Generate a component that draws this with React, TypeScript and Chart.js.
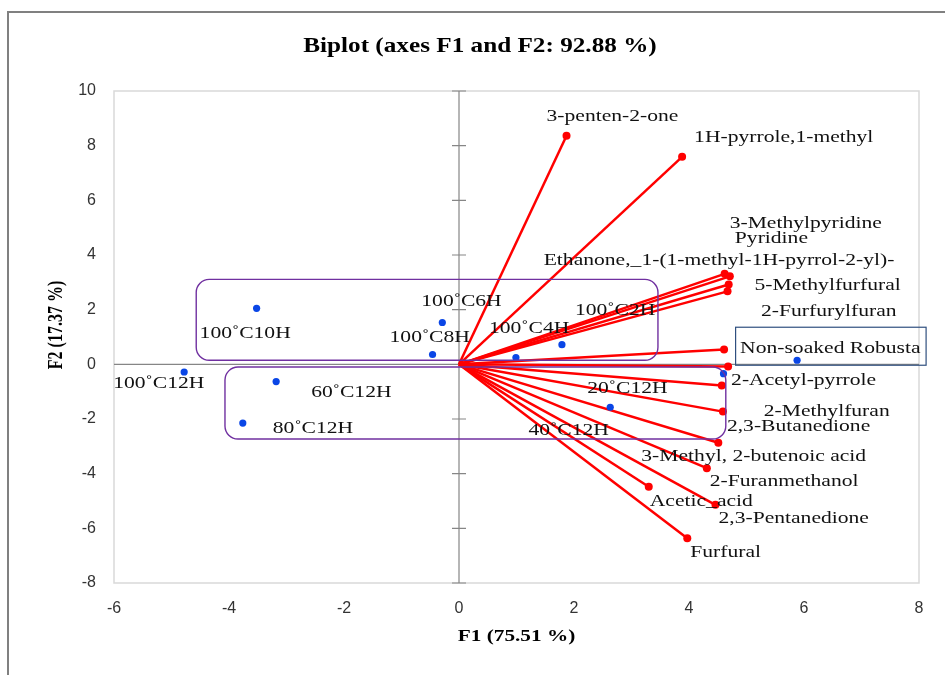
import React, { useEffect, useRef } from 'react';
import { Chart, registerables } from 'chart.js';

Chart.register(...registerables);

// ---------- data ----------
const titleText = 'Biplot (axes F1 and F2: 92.88 %)';
const xTitle = 'F1 (75.51 %)';
const yTitle = 'F2 (17.37 %)';

const xMin = -6;
const xMax = 8;
const yMin = -8;
const yMax = 10;
const tickStep = 2;
const yTickValues = [-8, -6, -4, -2, 0, 2, 4, 6, 8, 10];

// observations (blue points)
const obsNames = [
  '100˚C2H', '100˚C4H', '100˚C6H', '100˚C8H', '100˚C10H', '100˚C12H',
  '20˚C12H', '40˚C12H', '60˚C12H', '80˚C12H', 'Non-soaked Robusta',
];
const obsF1 = [1.79, 0.99, -0.29, -0.46, -3.52, -4.78, 2.63, 4.6, -3.18, -3.76, 5.88];
const obsF2 = [0.72, 0.25, 1.53, 0.36, 2.05, -0.28, -1.57, -0.34, -0.63, -2.15, 0.15];

// variables (red vectors)
const varNames = [
  '3-penten-2-one', '1H-pyrrole,1-methyl', '3-Methylpyridine', 'Pyridine',
  'Ethanone,_1-(1-methyl-1H-pyrrol-2-yl)-', '5-Methylfurfural', '2-Furfurylfuran',
  '2-Acetyl-pyrrole', '2-Methylfuran', '2,3-Butanedione', '3-Methyl, 2-butenoic acid',
  '2-Furanmethanol', 'Acetic_acid', '2,3-Pentanedione', 'Furfural',
];
const varF1 = [1.87, 3.88, 4.62, 4.71, 4.69, 4.67, 4.61, 4.68, 4.57, 4.59, 4.51, 4.31, 3.3, 4.46, 3.97];
const varF2 = [8.36, 7.59, 3.31, 3.22, 2.92, 2.67, 0.54, -0.08, -0.77, -1.73, -2.87, -3.8, -4.48, -5.14, -6.36];

// group outlines (data units)
const groupLeft = [-4.57, -4.07];
const groupRight = [3.46, 4.64];
const groupTop = [3.11, -0.1];
const groupBottom = [0.15, -2.73];

// ---------- label placement (pixel offsets from the mark, left edge / middle) ----------
const obsLabelDx = [13, -27, -21, -43, -57, -71, -23, -195, 35, 30, -57];
const obsLabelDy = [-34, -29, -21, -17, 25, 12, -19, 57, 11, 5, -12];
const obsBoxed = [false, false, false, false, false, false, false, false, false, false, true];
const varLabelDx = [-20, 12, 5, 5, -185, 27, 37, 3, 42, 4, -77, 3, 1, 3, 3];
const varLabelDy = [-19, -19, -50, -38, -24, -6, -38, 14, 26, 15, 14, 13, 15, 14, 14];

// ---------- styles ----------
const RED = '#ff0000';
const BLUE = '#0a46e6';
const PURPLE = '#7030a0';
const BOXBLUE = '#2f4f7f';
const LABEL_FONT = '17px "Liberation Serif", "Times New Roman", serif';
const LABEL_SX = 1.27;

function stretchText(ctx: CanvasRenderingContext2D, text: string, x: number, y: number, sx: number) {
  ctx.save();
  ctx.translate(x, y);
  ctx.scale(sx, 1);
  ctx.fillText(text, 0, 0);
  ctx.restore();
}

function roundRectPath(ctx: CanvasRenderingContext2D, x: number, y: number, w: number, h: number, r: number) {
  ctx.beginPath();
  ctx.moveTo(x + r, y);
  ctx.lineTo(x + w - r, y);
  ctx.arcTo(x + w, y, x + w, y + r, r);
  ctx.lineTo(x + w, y + h - r);
  ctx.arcTo(x + w, y + h, x + w - r, y + h, r);
  ctx.lineTo(x + r, y + h);
  ctx.arcTo(x, y + h, x, y + h - r, r);
  ctx.lineTo(x, y + r);
  ctx.arcTo(x, y, x + r, y, r);
  ctx.closePath();
}

const biplotPlugin = {
  id: 'biplotDecor',
  beforeDraw(chart: any) {
    const ctx: CanvasRenderingContext2D = chart.ctx;
    const { left, right, top, bottom } = chart.chartArea;
    const xs = chart.scales.x;
    const ys = chart.scales.y;
    ctx.save();
    ctx.fillStyle = '#ffffff';
    ctx.fillRect(0, 0, chart.width, chart.height);
    // outer frame (cropped)
    ctx.strokeStyle = '#808080';
    ctx.lineWidth = 2;
    ctx.beginPath();
    ctx.moveTo(8, chart.height + 5);
    ctx.lineTo(8, 12);
    ctx.lineTo(chart.width + 5, 12);
    ctx.stroke();
    // plot area border
    ctx.strokeStyle = '#d9d9d9';
    ctx.lineWidth = 1.5;
    ctx.strokeRect(left, top, right - left, bottom - top);
    // axes through zero
    const x0 = xs.getPixelForValue(0);
    const y0 = ys.getPixelForValue(0);
    ctx.strokeStyle = '#868686';
    ctx.lineWidth = 1.2;
    ctx.beginPath();
    ctx.moveTo(left, y0);
    ctx.lineTo(right, y0);
    ctx.moveTo(x0, top);
    ctx.lineTo(x0, bottom);
    for (const t of yTickValues) {
      const py = ys.getPixelForValue(t);
      ctx.moveTo(x0 - 7, py);
      ctx.lineTo(x0 + 7, py);
    }
    ctx.stroke();
    ctx.restore();
  },
  afterDatasetsDraw(chart: any) {
    const ctx: CanvasRenderingContext2D = chart.ctx;
    const { left, right, top, bottom } = chart.chartArea;
    const xs = chart.scales.x;
    const ys = chart.scales.y;
    ctx.save();
    // group outlines
    ctx.strokeStyle = PURPLE;
    ctx.lineWidth = 1.4;
    for (let i = 0; i < groupLeft.length; i++) {
      const gx0 = xs.getPixelForValue(groupLeft[i]);
      const gx1 = xs.getPixelForValue(groupRight[i]);
      const gy0 = ys.getPixelForValue(groupTop[i]);
      const gy1 = ys.getPixelForValue(groupBottom[i]);
      roundRectPath(ctx, gx0, gy0, gx1 - gx0, gy1 - gy0, 13);
      ctx.stroke();
    }
    // labels
    ctx.font = LABEL_FONT;
    ctx.textAlign = 'left';
    ctx.textBaseline = 'middle';
    ctx.fillStyle = '#111111';
    for (let i = 0; i < varNames.length; i++) {
      const px = xs.getPixelForValue(varF1[i]) + varLabelDx[i];
      const py = ys.getPixelForValue(varF2[i]) + varLabelDy[i];
      stretchText(ctx, varNames[i], px, py, LABEL_SX);
    }
    for (let i = 0; i < obsNames.length; i++) {
      const px = xs.getPixelForValue(obsF1[i]) + obsLabelDx[i];
      const py = ys.getPixelForValue(obsF2[i]) + obsLabelDy[i];
      stretchText(ctx, obsNames[i], px, py, LABEL_SX);
      if (obsBoxed[i]) {
        const w = ctx.measureText(obsNames[i]).width * LABEL_SX;
        ctx.save();
        ctx.strokeStyle = BOXBLUE;
        ctx.lineWidth = 1.2;
        ctx.strokeRect(px - 4.5, py - 21, w + 10, 38);
        ctx.restore();
      }
    }
    // titles
    ctx.fillStyle = '#000000';
    ctx.textAlign = 'center';
    ctx.font = 'bold 21px "Liberation Serif", "Times New Roman", serif';
    stretchText(ctx, titleText, 480, 47, 1.2);
    ctx.font = 'bold 17px "Liberation Serif", "Times New Roman", serif';
    stretchText(ctx, xTitle, (left + right) / 2, 637, 1.25);
    ctx.save();
    ctx.translate(57, (top + bottom) / 2 - 12);
    ctx.rotate(-Math.PI / 2);
    ctx.scale(1, 1.25);
    ctx.font = 'bold 16px "Liberation Serif", "Times New Roman", serif';
    ctx.fillText(yTitle, 0, 0);
    ctx.restore();
    ctx.restore();
  },
};

export default function App() {
  const canvasRef = useRef<HTMLCanvasElement | null>(null);

  useEffect(() => {
    const canvas = canvasRef.current;
    if (!canvas) return;

    const vectorSets = varNames.map((name, i) => ({
      label: name,
      data: [{ x: 0, y: 0 }, { x: varF1[i], y: varF2[i] }],
      showLine: true,
      borderColor: RED,
      borderWidth: 2.5,
      backgroundColor: RED,
      pointRadius: [0, 4],
      pointBorderWidth: 0,
      order: 2,
    }));

    const obsSet = {
      label: 'Observations',
      data: obsNames.map((_, i) => ({ x: obsF1[i], y: obsF2[i] })),
      showLine: false,
      backgroundColor: BLUE,
      borderColor: BLUE,
      pointRadius: 3.6,
      pointBorderWidth: 0,
      order: 1,
    };

    const tickFont = { family: '"Liberation Sans", Arial, sans-serif', size: 16 };

    const chart = new Chart(canvas, {
      type: 'scatter',
      data: { datasets: [obsSet, ...vectorSets] as any },
      options: {
        animation: false,
        responsive: false,
        maintainAspectRatio: false,
        events: [],
        layout: { padding: { top: 91, right: 26, left: 0, bottom: 0 } },
        plugins: {
          legend: { display: false },
          tooltip: { enabled: false },
          title: { display: false },
        },
        scales: {
          x: {
            type: 'linear',
            position: 'bottom',
            min: xMin,
            max: xMax,
            ticks: { stepSize: tickStep, font: tickFont, color: '#333333', padding: 16, maxRotation: 0 },
            grid: { display: false, drawTicks: false },
            border: { display: false },
            afterFit: (s: any) => { s.height = 92; },
          },
          y: {
            type: 'linear',
            position: 'left',
            min: yMin,
            max: yMax,
            ticks: { stepSize: tickStep, font: tickFont, color: '#333333', padding: 18 },
            grid: { display: false, drawTicks: false },
            border: { display: false },
            afterFit: (s: any) => { s.width = 114; },
          },
        },
      } as any,
      plugins: [biplotPlugin],
    });

    return () => chart.destroy();
  }, []);

  return (
    <div style={{ position: 'fixed', left: 0, top: 0, width: 945, height: 675, background: '#fff' }}>
      <canvas ref={canvasRef} width={945} height={675} style={{ display: 'block' }} />
    </div>
  );
}
